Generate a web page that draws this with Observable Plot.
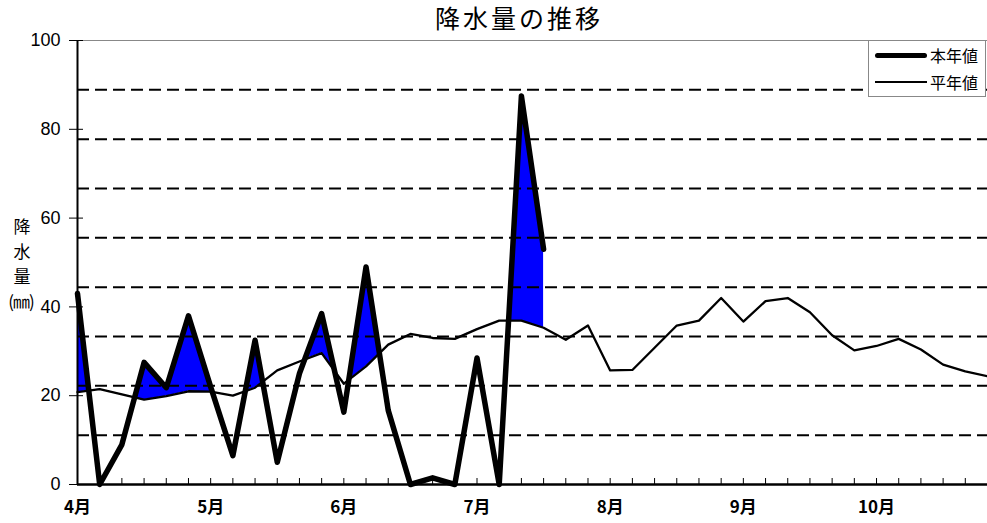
<!DOCTYPE html>
<html><head><meta charset="utf-8">
<script src="https://cdn.jsdelivr.net/npm/d3@7"></script>
<script src="https://cdn.jsdelivr.net/npm/@observablehq/plot@0.6"></script>
<style>
body{margin:0;background:#fff;}
#wrap{position:relative;width:987px;height:523px;overflow:hidden;font-family:"Liberation Sans","Noto Sans CJK JP",sans-serif;color:#000;}
#title{position:absolute;left:519px;top:5px;transform:translateX(-50%);font-family:"Noto Sans CJK JP",sans-serif;font-size:25px;line-height:1;letter-spacing:3px;white-space:nowrap;}
.ylab{position:absolute;font-family:"Noto Sans CJK JP",sans-serif;font-size:17px;line-height:1;transform:translate(-50%,-50%);white-space:nowrap;}
#legend{position:absolute;left:868px;top:40px;width:118px;height:57px;border:1px solid #888;background:#fff;box-sizing:border-box;}
.lrow{position:absolute;left:6px;display:flex;align-items:center;font-family:"Noto Sans CJK JP",sans-serif;font-size:16px;line-height:1;}
.lline{width:52px;background:#000;margin-right:3px;}
</style>
</head><body>
<div id="wrap">
  <div id="chart"></div>
  <div id="title">降水量の推移</div>
  <div class="ylab" style="left:22px;top:225px">降</div>
  <div class="ylab" style="left:22px;top:250px">水</div>
  <div class="ylab" style="left:22px;top:275px">量</div>
  <div class="ylab" style="left:21px;top:300px;font-size:17px;letter-spacing:-1px">(㎜)</div>
  <div id="legend">
    <div class="lrow" style="top:6px"><div class="lline" style="height:5px;border-radius:3px"></div>本年値</div>
    <div class="lrow" style="top:33px"><div class="lline" style="height:2px"></div>平年値</div>
  </div>
</div>
<script>
// 半旬 (5-day period) precipitation, mm
const current = [43, 0, 9, 27.5, 21.8, 38, 22, 6.5, 32.5, 5, 25, 38.5, 16.3, 49, 16.7, 0, 1.5, 0, 28.5, 0, 87.5, 53];
const normal = [20.8, 21.5, 20.3, 19.1, 19.9, 21, 20.9, 20, 21.8, 25.7, 27.7, 29.6, 22.7, 26.6, 31.5, 33.9, 33, 32.8, 35, 36.9, 36.9, 35.3, 32.6, 35.8, 25.7, 25.8, 30.8, 35.8, 36.9, 42, 36.7, 41.3, 42, 38.8, 33.6, 30.2, 31.2, 32.8, 30.4, 27, 25.5, 24.4];
const months = ["4月", "5月", "6月", "7月", "8月", "9月", "10月"];
const monthStart = [0, 6, 12, 18, 24, 30, 36];
const yTicks = [0, 20, 40, 60, 80, 100];
const gridValues = [100/9, 200/9, 300/9, 400/9, 500/9, 600/9, 700/9, 800/9];

const idx = d3.range(normal.length);
const curData = current.map((v, i) => ({i, cur: v, nor: normal[i]}));
const norData = normal.map((v, i) => ({i, v}));

const chart = Plot.plot({
  width: 987, height: 523,
  marginLeft: 77, marginRight: 0, marginTop: 40, marginBottom: 39,
  x: {domain: [0, normal.length - 1]},
  y: {domain: [0, 100]},
  style: {fontFamily: '"Liberation Sans","Noto Sans CJK JP",sans-serif', fontSize: "17px", background: "transparent", color: "#000"},
  marks: [
    Plot.areaY(curData, {x: "i", y1: "nor", y2: "cur", fill: "#0000ff", curve: "linear"}),
    Plot.areaY(curData, {x: "i", y1: 0, y2: "nor", fill: "#ffffff", curve: "linear"}),
    Plot.ruleY(gridValues, {stroke: "#000", strokeWidth: 2, strokeDasharray: "12,6"}),
    Plot.ruleY([100], {stroke: "#888", strokeWidth: 1}),
    Plot.line(norData, {x: "i", y: "v", stroke: "#000", strokeWidth: 2.3}),
    Plot.line(curData, {x: "i", y: "cur", stroke: "#000", strokeWidth: 5.5}),
    Plot.ruleY([0], {stroke: "#000", strokeWidth: 2.5}),
    Plot.ruleX([0], {stroke: "#000", strokeWidth: 2}),
    Plot.tickX(idx, {x: d => d, insetTop: 438, stroke: "#000", strokeWidth: 1}),
    Plot.tickY(yTicks, {y: d => d, insetRight: 904, stroke: "#000", strokeWidth: 1}),
    Plot.axisY(yTicks, {tickSize: 8, tickPadding: 9, fontSize: 18, label: null}),
    Plot.axisX(monthStart, {tickSize: 0, tickPadding: 16, fontSize: 17, fontWeight: "bold", label: null,
      fontFamily: '"Noto Sans CJK JP",sans-serif',
      tickFormat: d => months[monthStart.indexOf(d)]})
  ]
});
document.getElementById("chart").appendChild(chart);
</script>
</body></html>
